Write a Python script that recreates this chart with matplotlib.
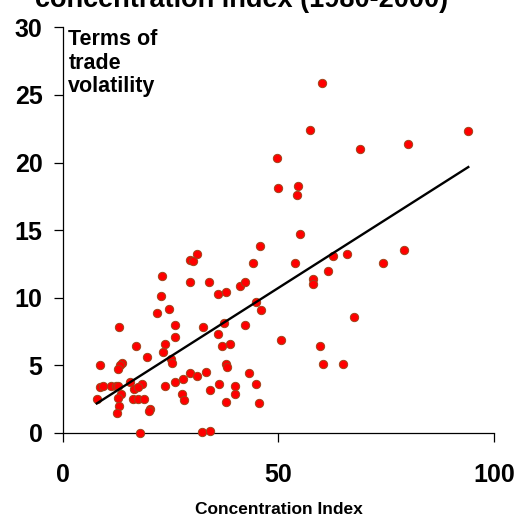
import numpy as np
import matplotlib
matplotlib.use("Agg")
import matplotlib.pyplot as plt

plt.rcParams['font.family'] = ['Liberation Sans', 'DejaVu Sans']
plt.rcParams['font.weight'] = 'bold'

# concentration index (x) vs terms of trade volatility (y)
conc = [60.1, 57.4, 94.0, 80.1, 68.8, 49.7, 50.0, 54.6, 54.2, 54.9,
        45.8, 44.2, 53.9, 65.8, 62.7, 74.3, 79.1, 61.6, 58.1, 58.1,
        41.0, 42.3, 44.8, 45.9, 42.2, 67.5, 50.6, 38.8, 59.7, 60.4,
        65.0, 43.2, 40.0, 44.8, 40.0, 45.5, 35.9, 37.0, 37.8, 38.1,
        29.4, 28.0, 31.2, 33.2, 36.2, 34.2, 27.7, 28.1, 37.8, 32.2,
        34.2, 31.2, 29.6, 30.3, 23.1, 29.6, 33.9, 36.1, 37.8, 22.9,
        24.7, 21.9, 26.1, 32.5, 37.4, 26.1, 23.8, 17.0, 23.2, 19.6,
        25.1, 25.4, 13.1, 13.8, 13.3, 12.8, 8.7, 8.7, 9.4, 11.3,
        12.4, 12.9, 15.6, 18.3, 16.5, 17.5, 13.5, 12.9, 7.9, 16.4,
        17.4, 18.9, 23.8, 26.1, 13.1, 12.5, 20.3, 19.9, 17.9]
vol = [25.9, 22.4, 22.3, 21.4, 21.0, 20.3, 18.1, 18.3, 17.6, 14.7,
       13.8, 12.6, 12.6, 13.2, 13.1, 12.6, 13.5, 12.0, 11.4, 11.0,
       10.9, 11.2, 9.7, 9.1, 8.0, 8.6, 6.9, 6.6, 6.4, 5.1,
       5.1, 4.4, 3.5, 3.6, 2.9, 2.2, 7.3, 6.4, 5.1, 4.9,
       4.4, 4.0, 4.2, 4.5, 3.6, 3.2, 2.9, 2.4, 2.3, 0.05,
       0.17, 13.2, 12.8, 12.7, 11.6, 11.2, 11.2, 10.25, 10.4, 10.1,
       9.2, 8.9, 8.0, 7.8, 8.1, 7.1, 6.6, 6.4, 6.0, 5.6,
       5.5, 5.2, 7.8, 5.2, 5.0, 4.7, 5.0, 3.4, 3.5, 3.5,
       3.5, 3.5, 3.8, 3.6, 3.25, 3.4, 2.9, 2.6, 2.5, 2.5,
       2.5, 2.5, 3.5, 3.8, 2.0, 1.5, 1.8, 1.6, 0.0]

x = np.array(conc)
y = np.array(vol)
slope, icpt = np.polyfit(x, y, 1)
xf = np.array([x.min(), x.max()])

fig = plt.figure(figsize=(5.18, 5.16), dpi=100)
ax = fig.add_axes([0.121, 0.161, 0.833, 0.786])

ax.scatter(x, y, s=36, c='#ff0000', edgecolors='#a0441a', linewidths=0.7,
           zorder=3, clip_on=False)
ax.plot(xf, slope * xf + icpt, color='black', lw=1.7, zorder=4)

ax.set_xlim(0, 100)
ax.set_ylim(0, 30)
ax.set_xticks([0, 50, 100])
ax.set_yticks([0, 5, 10, 15, 20, 25, 30])
ax.tick_params(direction='out', length=6.5, width=0.9, labelsize=18, pad=8)
ax.tick_params(axis='x', pad=15)
for s in ['top', 'right']:
    ax.spines[s].set_visible(False)
for s in ['left', 'bottom']:
    ax.spines[s].set_linewidth(0.9)

ax.text(0.013, 0.995, 'Terms of\ntrade\nvolatility', transform=ax.transAxes,
        fontsize=15.5, fontweight='bold', va='top', ha='left', linespacing=1.15)
ax.set_xlabel('Concentration Index', fontsize=12.5, fontweight='bold', labelpad=11)

fig.text(0.068, 0.986, 'concentration index (1980-2000)', fontsize=19.5,
         fontweight='bold', ha='left', va='baseline')

fig.savefig('out.png', dpi=100)
